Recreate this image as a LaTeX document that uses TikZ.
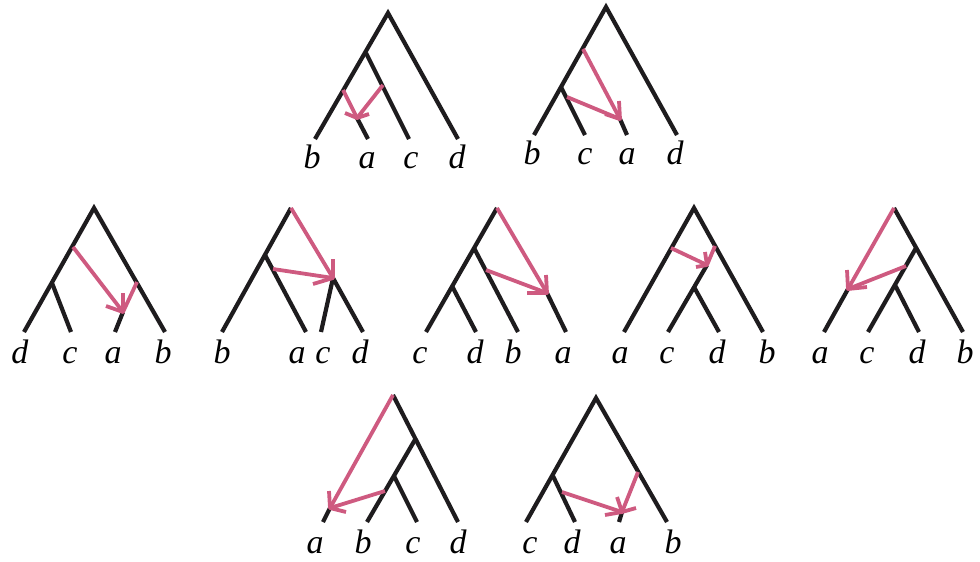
\documentclass[tikz,border=0pt]{standalone}
\usepackage{fontspec}
\setmainfont{Liberation Serif}
\definecolor{treeblack}{RGB}{30,28,30}
\definecolor{pinkc}{RGB}{206,90,128}
\begin{document}
\begin{tikzpicture}[x=1pt,y=-1pt,
  br/.style={draw=treeblack,line width=4.2pt},
  pk/.style={draw=pinkc,line width=3.8pt,line join=round},
  lab/.style={inner sep=0pt,anchor=base,font=\fontsize{34}{40}\selectfont\itshape}]
\useasboundingbox (0,0) rectangle (980,562);
% ---------- Tree 1 ----------
\coordinate (r1) at (388,13); \coordinate (u1) at (366,53);
\coordinate (b1) at (315,139); \coordinate (a1) at (368,139);
\coordinate (c1) at (409,139); \coordinate (d1) at (458,139);
\coordinate (t1) at (357,118); \coordinate (p1a) at (343,90); \coordinate (p1b) at (383,85);
\coordinate (k1a) at (345,113); \coordinate (k1b) at (369,114);
\draw[br] (b1) -- (r1) -- (d1); \draw[br] (u1) -- (c1); \draw[br] (a1) -- (t1);
\draw[pk] (p1a) -- (t1); \draw[pk] (p1b) -- (t1); \draw[pk] (k1a) -- (t1) -- (k1b);
\node[lab] (lb1) at (312,168) {b}; \node[lab] (la1) at (367,168) {a};
\node[lab] (lc1) at (411,168) {c}; \node[lab] (ld1) at (457,168) {d};
% ---------- Tree 2 ----------
\coordinate (r2) at (606,7); \coordinate (u2) at (561,87);
\coordinate (b2) at (534,135); \coordinate (c2) at (585,135);
\coordinate (a2) at (627,135); \coordinate (d2) at (677,135);
\coordinate (t2) at (620,119); \coordinate (p2a) at (583,49); \coordinate (p2b) at (567,97);
\coordinate (k2a) at (619,101); \coordinate (k2b) at (605,114);
\draw[br] (b2) -- (r2) -- (d2); \draw[br] (u2) -- (c2); \draw[br] (a2) -- (t2);
\draw[pk] (p2a) -- (t2); \draw[pk] (p2b) -- (t2); \draw[pk] (k2a) -- (t2) -- (k2b);
\node[lab] (lb2) at (532,164) {b}; \node[lab] (lc2) at (585,164) {c};
\node[lab] (la2) at (627,164) {a}; \node[lab] (ld2) at (675,164) {d};
% ---------- Tree 3 ----------
\coordinate (r3) at (94,208); \coordinate (u3) at (52,283);
\coordinate (d3) at (24,332); \coordinate (c3) at (71,332);
\coordinate (a3) at (115,332); \coordinate (b3) at (165,332);
\coordinate (t3) at (123,312); \coordinate (p3a) at (73,247); \coordinate (p3b) at (137,282);
\coordinate (k3a) at (106,306); \coordinate (k3b) at (123,293);
\draw[br] (d3) -- (r3) -- (b3); \draw[br] (u3) -- (c3); \draw[br] (a3) -- (t3);
\draw[pk] (p3a) -- (t3); \draw[pk] (p3b) -- (t3); \draw[pk] (k3a) -- (t3) -- (k3b);
\node[lab] (ld3) at (20,363) {d}; \node[lab] (lc3) at (70,363) {c};
\node[lab] (la3) at (113,363) {a}; \node[lab] (lb3) at (163,363) {b};
% ---------- Tree 4 ----------
\coordinate (r4) at (291,208); \coordinate (u4) at (265,255);
\coordinate (b4) at (222,332); \coordinate (a4) at (306,332);
\coordinate (v4) at (333,278); \coordinate (c4) at (321,332); \coordinate (d4) at (363,332);
\coordinate (p4b) at (273,269);
\coordinate (k4a) at (333,259); \coordinate (k4b) at (313,284);
\draw[br] (r4) -- (b4); \draw[br] (u4) -- (a4);
\draw[br] (c4) -- (v4) -- (d4);
\draw[pk] (r4) -- (v4); \draw[pk] (p4b) -- (v4); \draw[pk] (k4a) -- (v4) -- (k4b);
\node[lab] (lb4) at (222,363) {b}; \node[lab] (la4) at (297,363) {a};
\node[lab] (lc4) at (323,363) {c}; \node[lab] (ld4) at (360,363) {d};
% ---------- Tree 5 ----------
\coordinate (r5) at (497,208); \coordinate (u5) at (474,248); \coordinate (w5) at (452,286);
\coordinate (c5) at (426,332); \coordinate (d5) at (476,332);
\coordinate (b5) at (518,332); \coordinate (a5) at (566,332);
\coordinate (t5) at (547,293); \coordinate (p5b) at (486,270);
\coordinate (k5a) at (546,275); \coordinate (k5b) at (527,293);
\draw[br] (r5) -- (c5); \draw[br] (u5) -- (b5); \draw[br] (w5) -- (d5); \draw[br] (a5) -- (t5);
\draw[pk] (r5) -- (t5); \draw[pk] (p5b) -- (t5); \draw[pk] (k5a) -- (t5) -- (k5b);
\node[lab] (lc5) at (420,363) {c}; \node[lab] (ld5) at (475,363) {d};
\node[lab] (lb5) at (513,363) {b}; \node[lab] (la5) at (563,363) {a};
% ---------- Tree 6 ----------
\coordinate (r6) at (694,208); \coordinate (a6) at (624,332); \coordinate (b6) at (763,332);
\coordinate (w6) at (694,287); \coordinate (c6) at (668,332); \coordinate (d6) at (719,332);
\coordinate (t6) at (707,265); \coordinate (p6a) at (671,248); \coordinate (p6b) at (715,246);
\coordinate (k6a) at (696,267); \coordinate (k6b) at (705,252);
\draw[br] (a6) -- (r6) -- (b6); \draw[br] (c6) -- (t6); \draw[br] (w6) -- (d6);
\draw[pk] (p6a) -- (t6); \draw[pk] (p6b) -- (t6); \draw[pk] (k6a) -- (t6) -- (k6b);
\node[lab] (la6) at (620,363) {a}; \node[lab] (lc6) at (667,363) {c};
\node[lab] (ld6) at (717,363) {d}; \node[lab] (lb6) at (767,363) {b};
% ---------- Tree 7 ----------
\coordinate (r7) at (894,208); \coordinate (u7) at (916,248); \coordinate (w7) at (895,285);
\coordinate (a7) at (824,332); \coordinate (c7) at (868,332);
\coordinate (d7) at (919,332); \coordinate (b7) at (963,332);
\coordinate (t7) at (848,289); \coordinate (p7b) at (906,266);
\coordinate (k7a) at (847,270); \coordinate (k7b) at (867,287);
\draw[br] (r7) -- (b7); \draw[br] (u7) -- (c7); \draw[br] (w7) -- (d7); \draw[br] (a7) -- (t7);
\draw[pk] (r7) -- (t7); \draw[pk] (p7b) -- (t7); \draw[pk] (k7a) -- (t7) -- (k7b);
\node[lab] (la7) at (820,363) {a}; \node[lab] (lc7) at (867,363) {c};
\node[lab] (ld7) at (917,363) {d}; \node[lab] (lb7) at (965,363) {b};
% ---------- Tree 8 ----------
\coordinate (r8) at (393,395); \coordinate (u8) at (416,438); \coordinate (w8) at (394,476);
\coordinate (a8) at (323,522); \coordinate (b8) at (367,522);
\coordinate (c8) at (417,522); \coordinate (d8) at (458,522);
\coordinate (t8) at (330,508); \coordinate (p8b) at (385,491);
\coordinate (k8a) at (329,491); \coordinate (k8b) at (346,512);
\draw[br] (r8) -- (d8); \draw[br] (u8) -- (b8); \draw[br] (w8) -- (c8); \draw[br] (a8) -- (t8);
\draw[pk] (r8) -- (t8); \draw[pk] (p8b) -- (t8); \draw[pk] (k8a) -- (t8) -- (k8b);
\node[lab] (la8) at (315,553) {a}; \node[lab] (lb8) at (363,553) {b};
\node[lab] (lc8) at (413,553) {c}; \node[lab] (ld8) at (458,553) {d};
% ---------- Tree 9 ----------
\coordinate (r9) at (596,398); \coordinate (u9) at (553,476);
\coordinate (c9) at (526,522); \coordinate (d9) at (575,522);
\coordinate (a9) at (619,522); \coordinate (b9) at (667,522);
\coordinate (t9) at (622,512); \coordinate (p9a) at (562,492); \coordinate (p9b) at (638,472);
\coordinate (k9a) at (605,515); \coordinate (k9b) at (636,508); \coordinate (k9c) at (617,497);
\draw[br] (c9) -- (r9) -- (b9); \draw[br] (u9) -- (d9); \draw[br] (a9) -- (t9);
\draw[pk] (p9a) -- (t9); \draw[pk] (p9b) -- (t9);
\draw[pk] (k9a) -- (t9) -- (k9b); \draw[pk] (k9c) -- (t9);
\node[lab] (lc9) at (530,553) {c}; \node[lab] (ld9) at (572,553) {d};
\node[lab] (la9) at (618,553) {a}; \node[lab] (lb9) at (673,553) {b};
\end{tikzpicture}
\end{document}
